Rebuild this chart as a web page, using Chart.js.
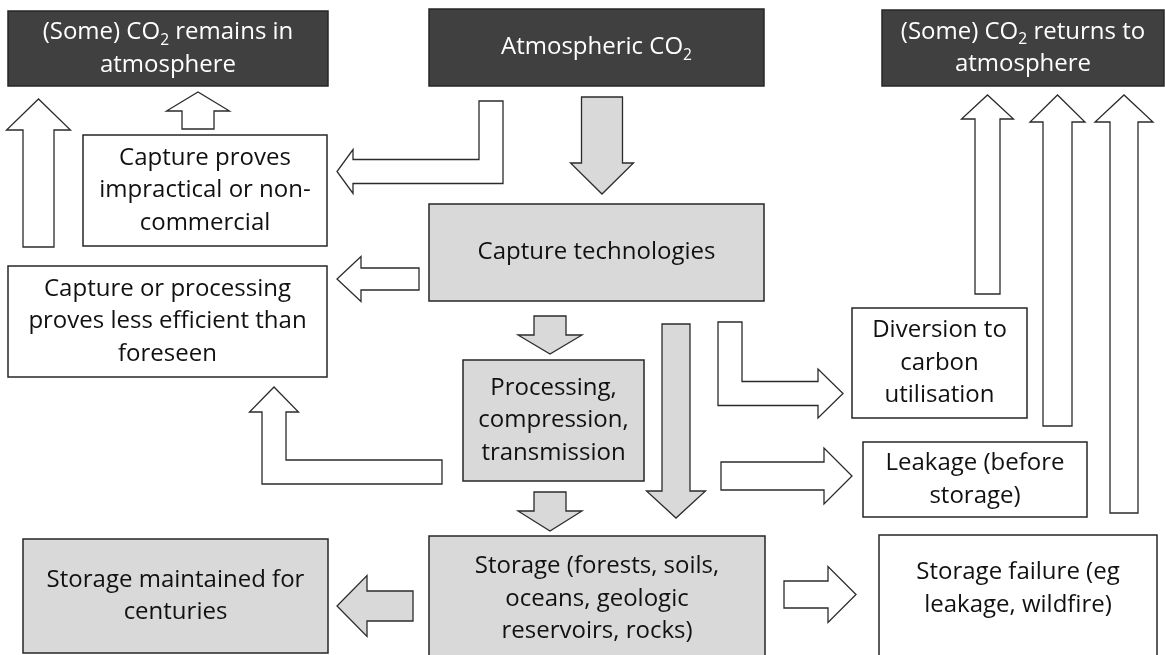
<!DOCTYPE html>
<html>
<head>
<meta charset="utf-8">
<script src="https://cdn.jsdelivr.net/npm/chart.js@4.4.0/dist/chart.umd.min.js"></script>
<style>
  html, body { margin: 0; padding: 0; background: #fff; }
  #wrap { width: 1165px; height: 655px; }
</style>
</head>
<body>
<div id="wrap"><canvas id="flow" width="1165" height="655"></canvas></div>
<script>
// --- diagram data (units = points of the 1165 x 655 sheet, y grows downwards) ---
// "_" marks the next char as a subscript, "\n" breaks lines
const boxLabels = [
    "(Some) CO_2 remains in\natmosphere",
    "Atmospheric CO_2",
    "(Some) CO_2 returns to\natmosphere",
    "Capture proves\nimpractical or non-\ncommercial",
    "Capture technologies",
    "Capture or processing\nproves less efficient than\nforeseen",
    "Processing,\ncompression,\ntransmission",
    "Diversion to\ncarbon\nutilisation",
    "Leakage (before\nstorage)",
    "Storage maintained for\ncenturies",
    "Storage (forests, soils,\noceans, geologic\nreservoirs, rocks)",
    "Storage failure (eg\nleakage, wildfire)\n"
];
const boxKinds = ["dark", "dark", "dark", "white", "grey", "white", "grey", "white", "white", "grey", "grey", "white"];
const boxLeft   = [8,   429, 882,  83,  429, 8,   463, 852, 863, 23,  429, 879];
const boxTop    = [11,  9,   10,   135, 204, 266, 360, 308, 442, 539, 536, 535];
const boxRight  = [328, 764, 1164, 327, 764, 327, 644, 1027, 1087, 328, 765, 1157];
const boxBottom = [86,  86,  86,   246, 301, 377, 481, 418, 517, 653, 662, 675];

// arrows: centre line from start to tip (an extra middle point makes an elbow)
const arrowPaths = [
    [[38.5, 247], [38.5, 99]],                 // up to "remains"
    [[198, 129], [198, 92]],                   // impractical -> remains
    [[491, 101], [491, 171.5], [337, 171.5]],  // atmospheric -> impractical
    [[602, 97], [602, 194]],                   // atmospheric -> capture
    [[419, 279], [337, 279]],                  // capture -> less efficient
    [[550, 316], [550, 354]],                  // capture -> processing
    [[676, 324], [676, 518]],                  // capture -> storage
    [[550, 492], [550, 531]],                  // processing -> storage
    [[730, 322], [730, 393.5], [843, 393.5]],  // -> diversion
    [[721, 476], [852, 476]],                  // -> leakage
    [[784, 594.5], [856, 594.5]],              // storage -> failure
    [[413, 606], [337, 606]],                  // storage -> maintained
    [[442, 472], [274, 472], [274, 387]],      // processing -> less efficient
    [[987.5, 294], [987.5, 95]],               // diversion -> returns
    [[1057.5, 426], [1057.5, 95]],             // leakage -> returns
    [[1124, 513], [1124, 95]]                  // failure -> returns
];
const arrowShaft   = [31, 32, 24, 41, 22, 32, 28, 32, 24, 28, 27, 30, 24, 25, 29, 28];
const arrowHead    = [64, 63, 44, 63, 45, 64, 59, 64, 49, 56, 56, 61, 49, 52, 55, 58];
const arrowHeadLen = [31, 19, 16, 31, 24, 19, 27, 20, 25, 28, 28, 30, 25, 24, 27, 27];
const arrowKinds   = ["white", "white", "white", "grey", "white", "grey", "grey", "grey",
                      "white", "white", "white", "grey", "white", "white", "white", "white"];

const FILLS = { dark: "#404040", grey: "#d9d9d9", white: "#ffffff" };
const FONT_FAMILY = "'Open Sans', Lato, sans-serif";
const FONT_SIZE = 24;
const LINE_GAP = 32.5;

// builds the outline of an arrow along an orthogonal centre line
function arrowOutline(pts, shaft, head, headLen) {
    const h = shaft / 2, H = head / 2;
    const dirs = [], norms = [];
    for (let i = 0; i < pts.length - 1; i++) {
        const dx = pts[i + 1][0] - pts[i][0], dy = pts[i + 1][1] - pts[i][1];
        const len = Math.hypot(dx, dy);
        dirs.push([dx / len, dy / len]);
        norms.push([-dy / len, dx / len]);
    }
    const last = dirs.length - 1;
    const tip = pts[pts.length - 1];
    const base = [tip[0] - dirs[last][0] * headLen, tip[1] - dirs[last][1] * headLen];
    const left = [], right = [];
    left.push([pts[0][0] + norms[0][0] * h, pts[0][1] + norms[0][1] * h]);
    right.push([pts[0][0] - norms[0][0] * h, pts[0][1] - norms[0][1] * h]);
    for (let i = 1; i < pts.length - 1; i++) {
        const nx = norms[i - 1][0] + norms[i][0], ny = norms[i - 1][1] + norms[i][1];
        left.push([pts[i][0] + nx * h, pts[i][1] + ny * h]);
        right.push([pts[i][0] - nx * h, pts[i][1] - ny * h]);
    }
    const n = norms[last];
    left.push([base[0] + n[0] * h, base[1] + n[1] * h]);
    left.push([base[0] + n[0] * H, base[1] + n[1] * H]);
    right.push([base[0] - n[0] * h, base[1] - n[1] * h]);
    right.push([base[0] - n[0] * H, base[1] - n[1] * H]);
    return left.concat([tip], right.reverse());
}

// split a line into normal / subscript runs
function runs(line) {
    const out = [];
    let buf = "";
    for (let i = 0; i < line.length; i++) {
        if (line[i] === "_" && i + 1 < line.length) {
            if (buf) out.push({ t: buf, sub: false });
            buf = "";
            out.push({ t: line[i + 1], sub: true });
            i++;
        } else {
            buf += line[i];
        }
    }
    if (buf) out.push({ t: buf, sub: false });
    return out;
}

function drawLine(ctx, line, cx, cy, color) {
    const parts = runs(line);
    let total = 0;
    parts.forEach(function (p) {
        ctx.font = (p.sub ? FONT_SIZE * 0.65 : FONT_SIZE) + "px " + FONT_FAMILY;
        p.w = ctx.measureText(p.t).width;
        total += p.w;
    });
    let x = cx - total / 2;
    ctx.fillStyle = color;
    ctx.textBaseline = "middle";
    ctx.textAlign = "left";
    parts.forEach(function (p) {
        ctx.font = (p.sub ? FONT_SIZE * 0.65 : FONT_SIZE) + "px " + FONT_FAMILY;
        ctx.fillText(p.t, x, p.sub ? cy + FONT_SIZE * 0.33 : cy);
        x += p.w;
    });
}

const flowPlugin = {
    id: "flowPlugin",
    afterDatasetsDraw(chart) {
        const ctx = chart.ctx;
        const xs = chart.scales.x, ys = chart.scales.y;
        const px = v => xs.getPixelForValue(v);
        const py = v => ys.getPixelForValue(v);
        ctx.save();

        // arrows
        arrowPaths.forEach(function (path, i) {
            const poly = arrowOutline(path, arrowShaft[i], arrowHead[i], arrowHeadLen[i]);
            ctx.beginPath();
            poly.forEach(function (p, k) {
                if (k === 0) ctx.moveTo(px(p[0]), py(p[1]));
                else ctx.lineTo(px(p[0]), py(p[1]));
            });
            ctx.closePath();
            ctx.fillStyle = FILLS[arrowKinds[i]];
            ctx.fill();
            ctx.lineWidth = 1.3;
            ctx.lineJoin = "miter";
            ctx.strokeStyle = "#2b2b2b";
            ctx.stroke();
        });

        // boxes
        boxLabels.forEach(function (label, i) {
            const x0 = px(boxLeft[i]), x1 = px(boxRight[i]);
            const y0 = py(boxTop[i]), y1 = py(boxBottom[i]);
            ctx.fillStyle = FILLS[boxKinds[i]];
            ctx.fillRect(x0, y0, x1 - x0, y1 - y0);
            ctx.lineWidth = 1.5;
            ctx.strokeStyle = "#262626";
            ctx.strokeRect(x0, y0, x1 - x0, y1 - y0);

            const lines = label.split("\n");
            const cx = (x0 + x1) / 2, cy = (y0 + y1) / 2;
            const color = boxKinds[i] === "dark" ? "#ffffff" : "#111111";
            lines.forEach(function (ln, k) {
                drawLine(ctx, ln, cx, cy + (k - (lines.length - 1) / 2) * LINE_GAP, color);
            });
        });

        ctx.restore();
    }
};

// anchor points (box centres) so the scales carry the diagram
const anchors = boxLabels.map(function (_, i) {
    return { x: (boxLeft[i] + boxRight[i]) / 2, y: (boxTop[i] + boxBottom[i]) / 2 };
});

new Chart(document.getElementById("flow"), {
    type: "scatter",
    data: {
        datasets: [{ data: anchors, pointRadius: 0, showLine: false }]
    },
    options: {
        responsive: false,
        animation: false,
        layout: { padding: 0 },
        plugins: { legend: { display: false }, tooltip: { enabled: false } },
        scales: {
            x: { type: "linear", min: 0, max: 1165, display: false },
            y: { type: "linear", min: 0, max: 655, reverse: true, display: false }
        }
    },
    plugins: [flowPlugin]
});
</script>
</body>
</html>
